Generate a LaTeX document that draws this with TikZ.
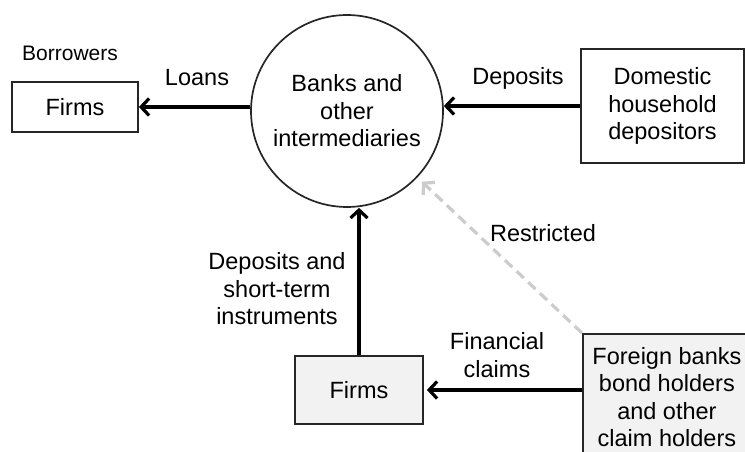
\documentclass[tikz,border=0pt]{standalone}
\usepackage{fontspec}
\setmainfont{Liberation Sans}
\usetikzlibrary{arrows.meta,calc}
\definecolor{boxgray}{HTML}{F2F2F2}
\definecolor{dashgray}{HTML}{CCCCCC}
\tikzset{
  lbl/.style={font=\fontsize{23.5}{27.5}\selectfont, align=center, inner sep=0pt},
  boxnode/.style={draw=black!85, line width=1.8pt, font=\fontsize{23.5}{27.5}\selectfont, align=center, inner sep=0pt},
  flow/.style={line width=3.2pt, -{Straight Barb[length=8pt,width=17pt,line width=3.2pt]}},
  restr/.style={line width=3.2pt, draw=dashgray, dash pattern=on 10pt off 6pt, -{Straight Barb[length=8pt,width=17pt,line width=3.2pt]}}
}
\begin{document}
\begin{tikzpicture}[x=1pt,y=-1pt]
\useasboundingbox (0,0) rectangle (745,452);
\node[boxnode, circle, minimum size=192pt, line width=1.7pt] (bank) at (347,111) {Banks and\\ other\\ intermediaries};
\node[boxnode, minimum width=126pt, minimum height=50pt] (firmsL) at (75,107) {Firms};
\node[boxnode, minimum width=163pt, minimum height=114pt] (dom) at (662.5,106) {Domestic\\ household\\ depositors};
\node[boxnode, fill=boxgray, minimum width=128pt, minimum height=68pt] (firmsB) at (359,390) {Firms};
\node[boxnode, fill=boxgray, minimum width=168pt, minimum height=126pt, anchor=north west] (foreign) at (582,333) {Foreign banks\\ bond holders\\ and other\\ claim holders};

\node[lbl, font=\fontsize{21}{25}\selectfont] (borr) at (70,53) {Borrowers};
\node[lbl] (loans) at (197,78) {Loans};
\node[lbl] (dep) at (518,78) {Deposits};
\node[lbl] (dst) at (277,289) {Deposits and\\ short-term\\ instruments};
\node[lbl] (fin) at (497,355) {Financial\\ claims};
\node[lbl] (res) at (543,233) {Restricted};

\draw[flow] (firmsL.east -| bank.west) -- (firmsL.east);
\draw[flow] (dom.west) -- (dom.west -| bank.east);
\draw[flow] (firmsB.north) -- (firmsB.north |- bank.south);
\draw[flow] (firmsB.east -| foreign.west) -- ([xshift=3pt]firmsB.east);
\draw[restr, shorten >=6pt] (foreign.north west) -- (bank);
\end{tikzpicture}
\end{document}
